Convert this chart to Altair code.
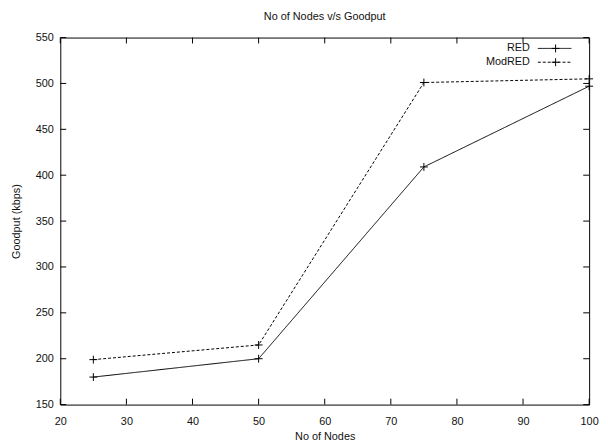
import altair as alt
import pandas as pd

# ---- data ----
nodes = [25, 50, 75, 100]
red = [180, 200, 409, 497]
modred = [199, 215, 501, 505]
series = ["RED", "ModRED"]
x_ticks = [20, 30, 40, 50, 60, 70, 80, 90, 100]
y_ticks = [150, 200, 250, 300, 350, 400, 450, 500, 550]

df = pd.DataFrame({
    "nodes": nodes * 2,
    "goodput": red + modred,
    "series": ["RED"] * len(nodes) + ["ModRED"] * len(nodes),
})

W, H = 536, 372
FONT = "Liberation Sans"
PLUS = "M-1,0L1,0M0,-1L0,1"
DASHES = {"RED": [1, 0], "ModRED": [3, 2]}

xscale = alt.Scale(domain=[20, 100], nice=False, zero=False)
yscale = alt.Scale(domain=[150, 550], nice=False, zero=False)

xaxis = alt.Axis(values=x_ticks, title="No of Nodes", tickSize=0, domain=False, grid=False,
                 labelFlush=False, labelOverlap=False,
                 labelPadding=11, titlePadding=4, labelFontSize=11, titleFontSize=11,
                 labelFont=FONT, titleFont=FONT, titleFontWeight="normal",
                 labelColor="#111", titleColor="#111")
yaxis = alt.Axis(values=y_ticks, title="Goodput (kbps)", tickSize=0, domain=False, grid=False,
                 labelFlush=False, labelOverlap=False,
                 labelPadding=7, titlePadding=14, labelFontSize=11, titleFontSize=11,
                 labelFont=FONT, titleFont=FONT, titleFontWeight="normal",
                 labelColor="#111", titleColor="#111")

X = alt.X("nodes:Q", scale=xscale, axis=xaxis)
Y = alt.Y("goodput:Q", scale=yscale, axis=yaxis)

base = alt.Chart(df)
lines = base.mark_line(color="black", strokeWidth=1).encode(
    x=X, y=Y,
    strokeDash=alt.StrokeDash("series:N",
                              scale=alt.Scale(domain=series, range=[DASHES[s] for s in series]),
                              legend=None),
    detail="series:N",
)
points = base.mark_point(shape=PLUS, size=64, color="black", strokeWidth=1,
                         filled=False, opacity=1).encode(x=X, y=Y)

# inward ticks on all four sides (gnuplot style)
xt = pd.DataFrame({"nodes": x_ticks})
yt = pd.DataFrame({"goodput": y_ticks})
tick_layers = [
    alt.Chart(xt).mark_rule(color="black", strokeWidth=1).encode(
        x=X, y=alt.value(H), y2=alt.value(H - 6)),
    alt.Chart(xt).mark_rule(color="black", strokeWidth=1).encode(
        x=X, y=alt.value(0), y2=alt.value(6)),
    alt.Chart(yt).mark_rule(color="black", strokeWidth=1).encode(
        y=Y, x=alt.value(0), x2=alt.value(6)),
    alt.Chart(yt).mark_rule(color="black", strokeWidth=1).encode(
        y=Y, x=alt.value(W), x2=alt.value(W - 6)),
]

# gnuplot-style key, top right inside the plot
legend_layers = []
for i, s in enumerate(series):
    ly = 11 + 14 * i
    ldf = pd.DataFrame({"series": [s]})
    legend_layers.append(alt.Chart(ldf).mark_text(align="right", baseline="middle", fontSize=11,
                                                  font=FONT, color="#111").encode(
        text="series:N", x=alt.value(W - 60), y=alt.value(ly)))
    legend_layers.append(alt.Chart(ldf).mark_rule(color="black", strokeWidth=1,
                                                  strokeDash=DASHES[s]).encode(
        x=alt.value(W - 52), x2=alt.value(W - 18), y=alt.value(ly)))
    legend_layers.append(alt.Chart(ldf).mark_point(shape=PLUS, size=64, color="black", strokeWidth=1,
                                                   filled=False, opacity=1).encode(
        x=alt.value(W - 34), y=alt.value(ly)))

chart = alt.layer(lines, points, *tick_layers, *legend_layers).properties(
    width=W, height=H,
    title=alt.TitleParams("No of Nodes v/s Goodput", fontSize=11, font=FONT, fontWeight="normal",
                          anchor="middle", offset=10, color="#111"),
    autosize="none",
    background="white",
    padding={"left": 53, "top": 27, "right": 11, "bottom": 39},
).configure_view(stroke="black", strokeWidth=1)

chart.save("out.html", embed_options={"renderer": "svg", "actions": False})
